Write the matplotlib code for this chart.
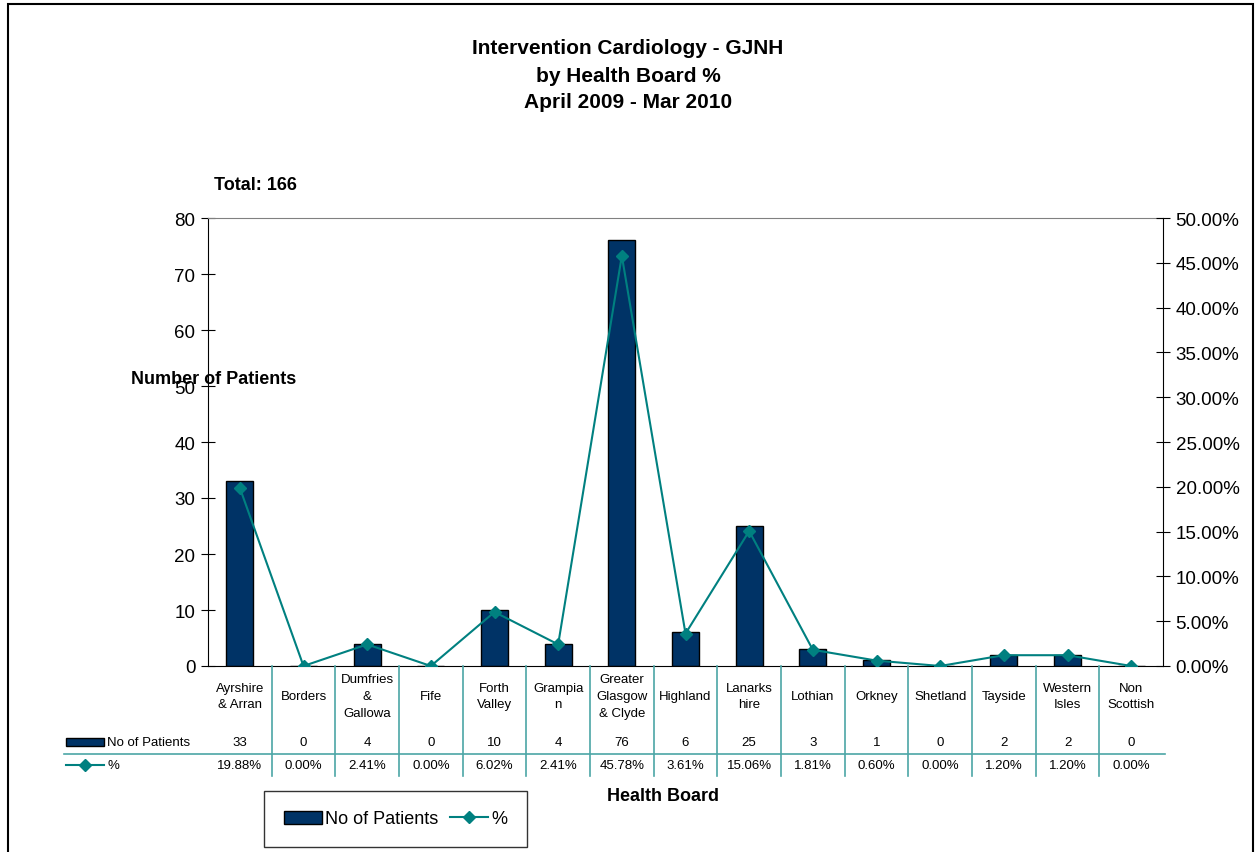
import numpy as np
import matplotlib
matplotlib.use("Agg")
import matplotlib.pyplot as plt
import matplotlib.transforms as mtransforms
from matplotlib.patches import Rectangle
from matplotlib.lines import Line2D

plt.rcParams['font.family'] = ['Liberation Sans', 'DejaVu Sans']

# Patients per health board, Apr 2009 - Mar 2010
boards = ["Ayrshire\n& Arran", "Borders", "Dumfries\n&\nGallowa", "Fife", "Forth\nValley",
          "Grampia\nn", "Greater\nGlasgow\n& Clyde", "Highland", "Lanarks\nhire", "Lothian",
          "Orkney", "Shetland", "Tayside", "Western\nIsles", "Non\nScottish"]
patients = [33, 0, 4, 0, 10, 4, 76, 6, 25, 3, 1, 0, 2, 2, 0]
total = sum(patients)
percent = [p / total for p in patients]

bar_col = '#003366'
line_col = '#008080'
grid_col = '#4ca6a6'

W, H = 1258, 853
fig = plt.figure(figsize=(W / 100, H / 100), dpi=100)


def fx(px):
    return px / W


def fy(py):
    return 1 - py / H


# outer chart frame
fig.add_artist(Rectangle((fx(8), fy(900)), fx(1253) - fx(8), fy(5) - fy(900),
                         transform=fig.transFigure, fill=False, ec='black', lw=1.5))

ax = fig.add_axes([fx(208), fy(667), fx(1163) - fx(208), fy(219) - fy(667)])
x = np.arange(len(boards))
ax.bar(x, patients, width=0.42, color=bar_col, edgecolor='black', linewidth=1, zorder=2)
ax.set_xlim(-0.5, len(boards) - 0.5)
ax.set_ylim(0, 80)
ax.set_yticks(range(0, 81, 10))
ax.set_xticks([])
ax.tick_params(axis='y', direction='inout', length=10, labelsize=13.5, pad=4)
ax.spines['top'].set_color('#808080')
ax.spines['right'].set_visible(False)

ax2 = ax.twinx()
ax2.plot(x, percent, color=line_col, lw=1.5, marker='D', ms=6.5, zorder=3)
ax2.set_ylim(0, 0.5)
ax2.set_yticks(np.arange(0, 0.51, 0.05))
ax2.set_yticklabels([f"{v * 100:.2f}%" for v in np.arange(0, 0.51, 0.05)])
ax2.tick_params(axis='y', direction='inout', length=10, labelsize=13.5, pad=4)
ax2.spines['top'].set_visible(False)
ax2.spines['left'].set_visible(False)
ax2.spines['bottom'].set_visible(False)

# titles
titles = ["Intervention Cardiology - GJNH", "by Health Board %", "April 2009 - Mar 2010"]
for i, t in enumerate(titles):
    fig.text(fx(628), fy(49 + 27 * i), t, ha='center', va='center', fontsize=15, fontweight='bold')
fig.text(fx(214), fy(185), f"Total: {total}", ha='left', va='center', fontsize=13, fontweight='bold')
fig.text(fx(131), fy(379), "Number of Patients", ha='left', va='center', fontsize=13, fontweight='bold')
fig.text(fx(663), fy(797), "Health Board", ha='center', va='center', fontsize=13, fontweight='bold')

# data table under the axis
tr = mtransforms.blended_transform_factory(ax.transData, fig.transFigure)
for i, b in enumerate(boards):
    fig.text(i, fy(697), b, transform=tr, ha='center', va='center', fontsize=9.5, linespacing=1.55)
    fig.text(i, fy(743), str(patients[i]), transform=tr, ha='center', va='center', fontsize=9.5)
    fig.text(i, fy(766), f"{percent[i] * 100:.2f}%", transform=tr, ha='center', va='center', fontsize=9.5)
for i in range(len(boards) - 1):
    fig.add_artist(Line2D([i + 0.5, i + 0.5], [fy(667), fy(777)], transform=tr, color=grid_col, lw=1.2))
fig.add_artist(Line2D([fx(64), fx(1165)], [fy(755), fy(755)], transform=fig.transFigure,
                      color=grid_col, lw=1.2))

# row keys
fig.add_artist(Rectangle((fx(66), fy(747)), fx(104) - fx(66), fy(739) - fy(747),
                         transform=fig.transFigure, fc=bar_col, ec='black', lw=1))
fig.text(fx(107), fy(743), "No of Patients", ha='left', va='center', fontsize=9.5)
fig.add_artist(Line2D([fx(66), fx(104)], [fy(766), fy(766)], transform=fig.transFigure,
                      color=line_col, lw=1.5))
fig.add_artist(Line2D([fx(85)], [fy(766)], transform=fig.transFigure, color=line_col,
                      marker='D', ms=6.5, lw=0))
fig.text(fx(107), fy(766), "%", ha='left', va='center', fontsize=9.5)

# legend
handles = [Rectangle((0, 0), 1, 1, fc=bar_col, ec='black', lw=1),
           Line2D([], [], color=line_col, lw=1.5, marker='D', ms=6.5)]
leg = fig.legend(handles, ["No of Patients", "%"], loc='center',
                 bbox_to_anchor=(fx(395.5), fy(820)), ncol=2, fontsize=13,
                 frameon=True, fancybox=False, edgecolor='black', borderpad=1.1,
                 handlelength=2.1, handletextpad=0.15, columnspacing=0.7,
                 borderaxespad=0)
leg.get_frame().set_linewidth(1)

fig.savefig("out.png", dpi=100)
